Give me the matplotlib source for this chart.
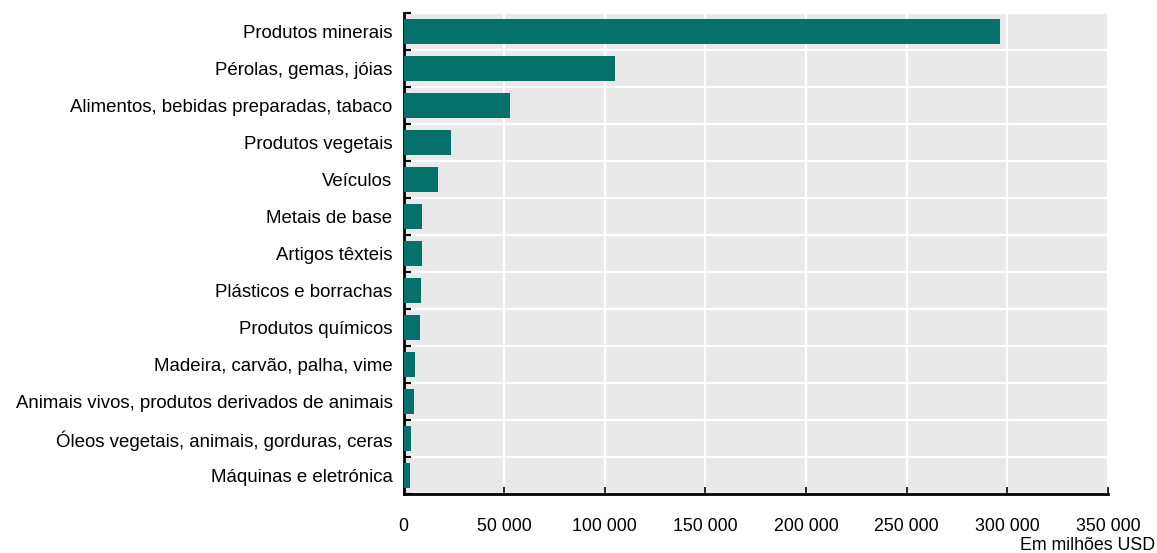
import matplotlib
matplotlib.use("Agg")
import matplotlib.pyplot as plt
from matplotlib import font_manager as fm
from matplotlib.ticker import FuncFormatter, FixedLocator

names = [f.name for f in fm.fontManager.ttflist]
fam = 'Liberation Sans Narrow' if 'Liberation Sans Narrow' in names else 'Liberation Sans'
plt.rcParams['font.family'] = [fam, 'DejaVu Sans']

categories = [
    "Produtos minerais",
    "Pérolas, gemas, jóias",
    "Alimentos, bebidas preparadas, tabaco",
    "Produtos vegetais",
    "Veículos",
    "Metais de base",
    "Artigos têxteis",
    "Plásticos e borrachas",
    "Produtos químicos",
    "Madeira, carvão, palha, vime",
    "Animais vivos, produtos derivados de animais",
    "Óleos vegetais, animais, gorduras, ceras",
    "Máquinas e eletrónica",
]
values = [296300, 105100, 53100, 23500, 17000, 9000, 9000, 8550, 8050, 5700, 5050, 3900, 3400]
xticks = [0, 50000, 100000, 150000, 200000, 250000, 300000, 350000]
xlabel = "Em milhões USD"

fig = plt.figure(figsize=(11.57, 5.53), dpi=100)
W, H = 1157, 553
left, right, top, bottom = 403.5, 1108, 13, 494
ax = fig.add_axes([left / W, 1 - bottom / H, (right - left) / W, (bottom - top) / H])
ax.set_facecolor('#e9e9e9')

n = len(categories)
ypos = list(range(n))
ax.barh(ypos, values, height=0.67, color='#04726a', zorder=3)
ax.set_ylim(n - 0.5, -0.5)
ax.set_xlim(0, 350000)

ax.set_yticks(ypos)
ax.set_yticklabels(categories, fontsize=13.4)
ax.tick_params(axis='y', which='major', length=0, pad=8)
ax.yaxis.set_minor_locator(FixedLocator([i - 0.5 for i in range(n + 1)]))
ax.tick_params(axis='y', which='minor', direction='in', length=5, width=1.5, color='black')

ax.set_xticks(xticks)
ax.xaxis.set_major_formatter(FuncFormatter(lambda v, p: f"{int(v):,}".replace(",", " ")))
ax.tick_params(axis='x', direction='in', length=5, width=1.2, labelsize=12.8, pad=17)

ax.grid(axis='x', which='major', color='white', linewidth=1.6, zorder=1)
ax.grid(axis='y', which='minor', color='white', linewidth=1.6, zorder=1)
ax.grid(axis='y', which='major', visible=False)
ax.set_axisbelow(True)

for s in ['top', 'right']:
    ax.spines[s].set_visible(False)
ax.spines['left'].set_linewidth(2)
ax.spines['bottom'].set_linewidth(2)

fig.text(1155 / W, 1 - 545 / H, xlabel, ha='right', va='center', fontsize=12.8)

fig.savefig("out.png", dpi=100)
